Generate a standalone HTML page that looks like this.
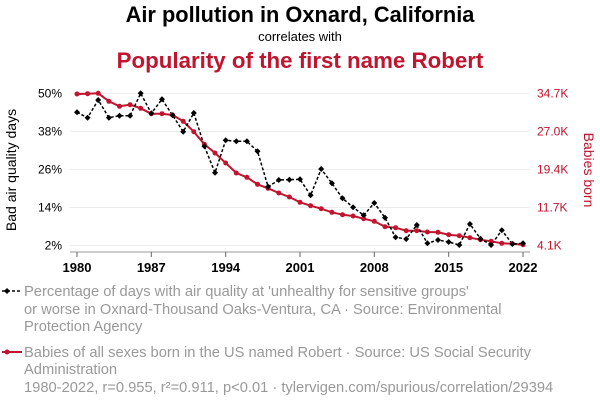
<!DOCTYPE html>
<html><head><meta charset="utf-8"><style>body{margin:0;background:#fff}svg text{font-family:"Liberation Sans",sans-serif}</style></head><body>
<svg width="600" height="408" viewBox="0 0 600 408" xmlns="http://www.w3.org/2000/svg">
<text x="300" y="22" text-anchor="middle" font-size="21.8" font-weight="bold" fill="#000">Air pollution in Oxnard, California</text>
<text x="300" y="41" text-anchor="middle" font-size="13" fill="#000">correlates with</text>
<text x="300" y="68" text-anchor="middle" font-size="22.3" font-weight="bold" fill="#c0142f">Popularity of the first name Robert</text>
<g stroke="#ececec" stroke-width="1">
<line x1="70" x2="530" y1="93.3" y2="93.3"/><line x1="70" x2="530" y1="131.5" y2="131.5"/><line x1="70" x2="530" y1="169.5" y2="169.5"/><line x1="70" x2="530" y1="207.5" y2="207.5"/><line x1="70" x2="530" y1="245.5" y2="245.5"/>
</g>
<line x1="70" x2="530" y1="252" y2="252" stroke="#999"/>
<g stroke="#666"><line x1="77" x2="77" y1="252" y2="257"/><line x1="151.3" x2="151.3" y1="252" y2="257"/><line x1="225.7" x2="225.7" y1="252" y2="257"/><line x1="300" x2="300" y1="252" y2="257"/><line x1="374.3" x2="374.3" y1="252" y2="257"/><line x1="448.7" x2="448.7" y1="252" y2="257"/><line x1="523" x2="523" y1="252" y2="257"/></g>
<g font-size="13" font-weight="bold" text-anchor="middle" fill="#000">
<text x="77" y="272">1980</text><text x="151.3" y="272">1987</text><text x="225.7" y="272">1994</text><text x="300" y="272">2001</text><text x="374.3" y="272">2008</text><text x="448.7" y="272">2015</text><text x="523" y="272">2022</text></g>
<g font-size="12" text-anchor="end" fill="#000">
<text x="62" y="97.5">50%</text><text x="62" y="135.5">38%</text><text x="62" y="173.5">26%</text><text x="62" y="211.5">14%</text><text x="62" y="249.5">2%</text></g>
<g font-size="12" fill="#c0142f">
<text x="537" y="97.5">34.7K</text><text x="537" y="135.5">27.0K</text><text x="537" y="173.5">19.4K</text><text x="537" y="211.5">11.7K</text><text x="537" y="249.5">4.1K</text></g>
<text transform="translate(16,170) rotate(-90)" text-anchor="middle" font-size="14" fill="#000">Bad air quality days</text>
<text transform="translate(584,170) rotate(90)" text-anchor="middle" font-size="14" fill="#c0142f">Babies born</text>
<polyline fill="none" stroke="#c0142f" stroke-width="2" points="77,94 87.6,93.7 98.2,93.3 108.9,101.3 119.5,106.3 130.1,104.7 140.7,108.3 151.3,113.7 162,113.7 172.6,115 183.2,121.3 193.8,131.7 204.4,144.3 215,153 225.7,163 236.3,173 246.9,177.3 257.5,184.3 268.1,188.3 278.8,193 289.4,197 300,202.3 310.6,205.7 321.2,208.7 331.9,212.3 342.5,214.7 353.1,216 363.7,218.7 374.3,221.3 385,226.7 395.6,227.7 406.2,230.7 416.8,230.7 427.4,232 438,232.3 448.7,234.7 459.3,235.7 469.9,237.7 480.5,239.7 491.1,241.3 501.8,243.3 512.4,243.7 523,244.7"/>
<polyline fill="none" stroke="#000" stroke-width="1.5" stroke-dasharray="3,2" points="77,112.3 87.6,117.7 98.2,100 108.9,117.7 119.5,115.7 130.1,115.7 140.7,93.3 151.3,113.3 162,99.3 172.6,115.3 183.2,131.7 193.8,113 204.4,146.3 215,172.7 225.7,140.3 236.3,141.3 246.9,141.3 257.5,151.3 268.1,186.7 278.8,180 289.4,179.7 300,179.3 310.6,195.3 321.2,169 331.9,183.3 342.5,198.3 353.1,207.3 363.7,215.3 374.3,203 385,217.7 395.6,237.3 406.2,239 416.8,225 427.4,243.3 438,240 448.7,242 459.3,245 469.9,224 480.5,238.7 491.1,245 501.8,230.3 512.4,244 523,243.3"/>
<g fill="#c0142f">
<circle cx="77" cy="94" r="2.5"/><circle cx="87.6" cy="93.7" r="2.5"/><circle cx="98.2" cy="93.3" r="2.5"/><circle cx="108.9" cy="101.3" r="2.5"/><circle cx="119.5" cy="106.3" r="2.5"/><circle cx="130.1" cy="104.7" r="2.5"/><circle cx="140.7" cy="108.3" r="2.5"/><circle cx="151.3" cy="113.7" r="2.5"/><circle cx="162" cy="113.7" r="2.5"/><circle cx="172.6" cy="115" r="2.5"/><circle cx="183.2" cy="121.3" r="2.5"/><circle cx="193.8" cy="131.7" r="2.5"/><circle cx="204.4" cy="144.3" r="2.5"/><circle cx="215" cy="153" r="2.5"/><circle cx="225.7" cy="163" r="2.5"/><circle cx="236.3" cy="173" r="2.5"/><circle cx="246.9" cy="177.3" r="2.5"/><circle cx="257.5" cy="184.3" r="2.5"/><circle cx="268.1" cy="188.3" r="2.5"/><circle cx="278.8" cy="193" r="2.5"/><circle cx="289.4" cy="197" r="2.5"/><circle cx="300" cy="202.3" r="2.5"/><circle cx="310.6" cy="205.7" r="2.5"/><circle cx="321.2" cy="208.7" r="2.5"/><circle cx="331.9" cy="212.3" r="2.5"/><circle cx="342.5" cy="214.7" r="2.5"/><circle cx="353.1" cy="216" r="2.5"/><circle cx="363.7" cy="218.7" r="2.5"/><circle cx="374.3" cy="221.3" r="2.5"/><circle cx="385" cy="226.7" r="2.5"/><circle cx="395.6" cy="227.7" r="2.5"/><circle cx="406.2" cy="230.7" r="2.5"/><circle cx="416.8" cy="230.7" r="2.5"/><circle cx="427.4" cy="232" r="2.5"/><circle cx="438" cy="232.3" r="2.5"/><circle cx="448.7" cy="234.7" r="2.5"/><circle cx="459.3" cy="235.7" r="2.5"/><circle cx="469.9" cy="237.7" r="2.5"/><circle cx="480.5" cy="239.7" r="2.5"/><circle cx="491.1" cy="241.3" r="2.5"/><circle cx="501.8" cy="243.3" r="2.5"/><circle cx="512.4" cy="243.7" r="2.5"/><circle cx="523" cy="244.7" r="2.5"/>
</g>
<g fill="#000">
<path d="M77 109.3l3 3-3 3-3-3z"/><path d="M87.6 114.7l3 3-3 3-3-3z"/><path d="M98.2 97l3 3-3 3-3-3z"/><path d="M108.9 114.7l3 3-3 3-3-3z"/><path d="M119.5 112.7l3 3-3 3-3-3z"/><path d="M130.1 112.7l3 3-3 3-3-3z"/><path d="M140.7 90.3l3 3-3 3-3-3z"/><path d="M151.3 110.3l3 3-3 3-3-3z"/><path d="M162 96.3l3 3-3 3-3-3z"/><path d="M172.6 112.3l3 3-3 3-3-3z"/><path d="M183.2 128.7l3 3-3 3-3-3z"/><path d="M193.8 110l3 3-3 3-3-3z"/><path d="M204.4 143.3l3 3-3 3-3-3z"/><path d="M215 169.7l3 3-3 3-3-3z"/><path d="M225.7 137.3l3 3-3 3-3-3z"/><path d="M236.3 138.3l3 3-3 3-3-3z"/><path d="M246.9 138.3l3 3-3 3-3-3z"/><path d="M257.5 148.3l3 3-3 3-3-3z"/><path d="M268.1 183.7l3 3-3 3-3-3z"/><path d="M278.8 177l3 3-3 3-3-3z"/><path d="M289.4 176.7l3 3-3 3-3-3z"/><path d="M300 176.3l3 3-3 3-3-3z"/><path d="M310.6 192.3l3 3-3 3-3-3z"/><path d="M321.2 166l3 3-3 3-3-3z"/><path d="M331.9 180.3l3 3-3 3-3-3z"/><path d="M342.5 195.3l3 3-3 3-3-3z"/><path d="M353.1 204.3l3 3-3 3-3-3z"/><path d="M363.7 212.3l3 3-3 3-3-3z"/><path d="M374.3 200l3 3-3 3-3-3z"/><path d="M385 214.7l3 3-3 3-3-3z"/><path d="M395.6 234.3l3 3-3 3-3-3z"/><path d="M406.2 236l3 3-3 3-3-3z"/><path d="M416.8 222l3 3-3 3-3-3z"/><path d="M427.4 240.3l3 3-3 3-3-3z"/><path d="M438 237l3 3-3 3-3-3z"/><path d="M448.7 239l3 3-3 3-3-3z"/><path d="M459.3 242l3 3-3 3-3-3z"/><path d="M469.9 221l3 3-3 3-3-3z"/><path d="M480.5 235.7l3 3-3 3-3-3z"/><path d="M491.1 242l3 3-3 3-3-3z"/><path d="M501.8 227.3l3 3-3 3-3-3z"/><path d="M512.4 241l3 3-3 3-3-3z"/><path d="M523 240.3l3 3-3 3-3-3z"/>
</g>
<line x1="2" x2="22" y1="291" y2="291" stroke="#000" stroke-width="1.5" stroke-dasharray="3,2"/>
<path d="M7 288l3 3-3 3-3-3z"/>
<g font-size="14.7" fill="#999">
<text x="24" y="296">Percentage of days with air quality at 'unhealthy for sensitive groups'</text>
<text x="24" y="314">or worse in Oxnard-Thousand Oaks-Ventura, CA · Source: Environmental</text>
<text x="24" y="331">Protection Agency</text>
<text x="24" y="357">Babies of all sexes born in the US named Robert · Source: US Social Security</text>
<text x="24" y="374">Administration</text>
<text x="24" y="392">1980-2022, r=0.955, r²=0.911, p&lt;0.01 · tylervigen.com/spurious/correlation/29394</text>
</g>
<line x1="2" x2="22" y1="352" y2="352" stroke="#c0142f" stroke-width="2"/>
<circle cx="7" cy="352" r="2.5" fill="#c0142f"/>
</svg>
</body></html>
